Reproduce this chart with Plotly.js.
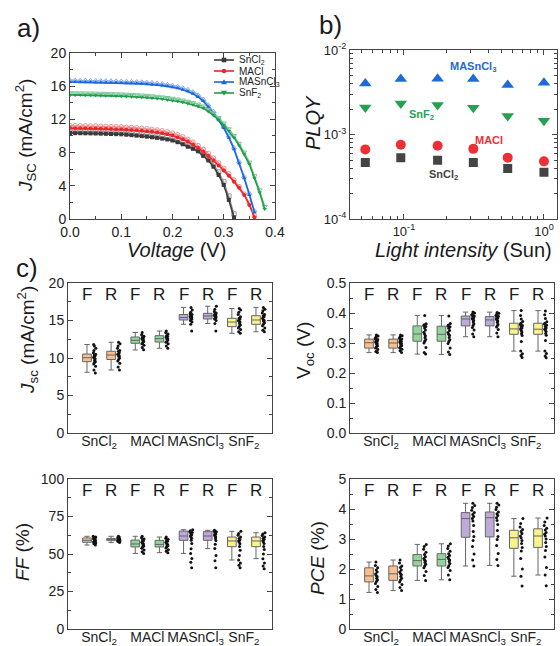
<!DOCTYPE html>
<html><head><meta charset="utf-8">
<script src="https://cdn.plot.ly/plotly-3.0.1.min.js"></script>
<style>html,body{margin:0;padding:0;background:#fff}#chart{width:560px;height:646px}</style>
</head><body><div id="chart"></div>
<script>
const FONT = 'Liberation Sans, Arial, Helvetica, sans-serif';
const AX = '#444';

// ---------- (a) J-V curves ----------
const voltage = [0.00,0.01,0.02,0.03,0.04,0.05,0.06,0.07,0.08,0.09,0.10,0.11,0.12,0.13,0.14,0.15,0.16,0.17,0.18,0.19,0.20,0.21,0.22,0.23,0.24,0.25,0.26,0.27,0.28,0.29,0.30,0.31,0.32,0.33,0.34,0.35,0.36,0.37,0.38];
const jSnCl2F = [10.35,10.34,10.33,10.32,10.31,10.3,10.28,10.26,10.24,10.22,10.2,10.15,10.1,10.04,9.98,9.92,9.85,9.77,9.68,9.58,9.45,9.25,9.0,8.7,8.45,8.15,7.6,7.05,6.3,5.3,4.1,2.3,0.2];
const jSnCl2R = [10.6,10.59,10.58,10.57,10.56,10.55,10.53,10.51,10.49,10.47,10.45,10.4,10.35,10.29,10.23,10.16,10.09,10.0,9.9,9.79,9.66,9.47,9.22,8.94,8.66,8.34,7.85,7.3,6.6,5.65,4.5,2.75,0.6];
const jMAClF = [10.95,10.94,10.93,10.92,10.91,10.9,10.88,10.86,10.84,10.82,10.8,10.76,10.72,10.68,10.63,10.57,10.5,10.42,10.33,10.22,10.05,9.85,9.6,9.3,8.95,8.55,8.1,7.6,7.05,6.45,5.85,5.2,4.5,3.75,2.9,1.7,0.2];
const jMAClR = [11.25,11.24,11.23,11.22,11.21,11.2,11.18,11.16,11.14,11.12,11.1,11.06,11.02,10.98,10.93,10.87,10.8,10.72,10.62,10.5,10.35,10.15,9.9,9.6,9.25,8.85,8.4,7.9,7.35,6.75,6.1,5.45,4.7,3.9,3.0,1.9,0.4];
const jMASnCl3F = [16.5,16.49,16.48,16.47,16.46,16.45,16.44,16.43,16.42,16.4,16.38,16.36,16.34,16.31,16.28,16.24,16.2,16.14,16.07,15.98,15.88,15.75,15.58,15.38,15.1,14.7,14.2,13.5,12.7,11.9,10.95,9.8,8.4,6.7,4.9,2.9,0.8];
const jMASnCl3R = [16.72,16.71,16.7,16.69,16.68,16.67,16.66,16.65,16.64,16.62,16.6,16.58,16.56,16.53,16.5,16.46,16.42,16.36,16.29,16.2,16.1,15.97,15.8,15.6,15.32,14.93,14.43,13.75,12.95,12.1,11.15,10.0,8.6,6.9,5.1,3.1,1.0];
const jSnF2F = [14.95,14.94,14.93,14.92,14.91,14.9,14.88,14.86,14.84,14.82,14.8,14.77,14.74,14.71,14.67,14.63,14.58,14.52,14.45,14.37,14.28,14.18,14.06,13.92,13.76,13.57,13.35,12.95,12.5,11.95,11.3,10.6,9.8,8.85,7.8,6.6,4.9,3.2,1.2];
const jSnF2R = [15.2,15.19,15.18,15.17,15.16,15.15,15.13,15.11,15.09,15.07,15.05,15.02,14.99,14.96,14.92,14.88,14.83,14.77,14.7,14.62,14.53,14.43,14.31,14.17,14.01,13.82,13.6,13.2,12.75,12.2,11.55,10.85,10.05,9.1,8.05,6.85,5.2,3.5,1.5];
const seriesNames = ['SnCl<sub>2</sub>','MACl','MASnCl<sub>3</sub>','SnF<sub>2</sub>'];

// ---------- (b) PLQY ----------
const intensity = [0.053,0.095,0.174,0.313,0.551,1.0];
const plqyMASnCl3 = [0.00403,0.00454,0.00458,0.00454,0.00386,0.00411];
const plqySnF2 = [0.0021,0.00234,0.00224,0.00208,0.00166,0.00146];
const plqyMACl = [0.00067,0.00076,0.00074,0.00068,0.000535,0.000484];
const plqySnCl2 = [0.00047,0.000535,0.0005,0.00047,0.000397,0.000359];

// ---------- (c) statistics ----------
const boxPos = [1,2,3,4,5,6,7,8];
const scanLabels = ['F','R','F','R','F','R','F','R'];
const catPos = [1.5,3.5,5.5,7.5];

const jscQ1 = [9.51,9.8,11.96,12.13,15.07,15.2,14.18,14.49];
const jscMed = [10.04,10.4,12.36,12.58,15.4,15.6,14.8,15.07];
const jscQ3 = [10.53,10.9,12.8,12.98,15.8,15.96,15.3,15.64];
const jscLow = [8.1,8.4,11.07,11.3,14.5,14.6,13.3,13.5];
const jscHigh = [11.8,12.1,13.4,13.6,16.75,16.9,16.6,16.75];
const jscPts = [
 [8.0,8.4,8.9,9.2,9.4,9.5,9.7,9.9,10.0,10.1,10.3,10.4,10.5,10.7,11.0,11.3,11.6,11.8],
 [8.4,8.8,9.3,9.6,9.8,10.0,10.2,10.3,10.4,10.5,10.7,10.9,11.0,11.3,11.6,11.9,12.1],
 [11.1,11.4,11.7,11.9,12.0,12.2,12.3,12.4,12.5,12.6,12.7,12.8,12.9,13.1,13.4],
 [11.3,11.6,11.9,12.1,12.2,12.4,12.5,12.6,12.7,12.8,12.9,13.0,13.2,13.4,13.6],
 [13.6,14.5,14.8,15.0,15.1,15.2,15.3,15.4,15.4,15.5,15.6,15.7,15.8,15.9,16.1,16.4,16.75],
 [13.6,14.6,15.0,15.2,15.3,15.4,15.5,15.6,15.6,15.7,15.8,15.9,16.0,16.2,16.5,16.9],
 [13.3,13.5,13.8,14.0,14.2,14.4,14.6,14.8,14.9,15.0,15.2,15.3,15.5,15.8,16.1,16.4,16.6],
 [13.5,13.7,14.0,14.3,14.5,14.7,14.9,15.0,15.1,15.3,15.5,15.6,15.8,16.0,16.3,16.5,16.75]
];

const vocQ1 = [0.283,0.283,0.306,0.306,0.357,0.357,0.329,0.329];
const vocMed = [0.301,0.300,0.330,0.329,0.380,0.377,0.347,0.346];
const vocQ3 = [0.313,0.313,0.357,0.356,0.390,0.388,0.366,0.366];
const vocLow = [0.268,0.268,0.263,0.262,0.321,0.321,0.273,0.273];
const vocHigh = [0.327,0.327,0.392,0.392,0.403,0.403,0.408,0.408];
const vocPts = [
 [0.268,0.272,0.278,0.283,0.287,0.291,0.295,0.298,0.301,0.303,0.306,0.309,0.312,0.315,0.319,0.323,0.327],
 [0.268,0.274,0.279,0.283,0.288,0.292,0.295,0.298,0.300,0.303,0.305,0.309,0.313,0.316,0.320,0.324,0.327],
 [0.263,0.268,0.285,0.300,0.306,0.312,0.318,0.324,0.330,0.336,0.343,0.350,0.355,0.358,0.361,0.364,0.392],
 [0.262,0.270,0.283,0.298,0.305,0.311,0.318,0.325,0.329,0.335,0.342,0.349,0.354,0.357,0.360,0.365,0.390],
 [0.321,0.330,0.343,0.352,0.358,0.364,0.370,0.375,0.379,0.381,0.384,0.387,0.390,0.393,0.396,0.400,0.403],
 [0.321,0.333,0.345,0.353,0.357,0.362,0.368,0.373,0.377,0.380,0.383,0.386,0.389,0.392,0.395,0.399,0.402],
 [0.252,0.258,0.264,0.273,0.305,0.325,0.331,0.337,0.342,0.347,0.350,0.354,0.358,0.362,0.366,0.372,0.380,0.392,0.408],
 [0.251,0.257,0.265,0.273,0.308,0.326,0.332,0.338,0.343,0.346,0.350,0.355,0.359,0.363,0.366,0.371,0.382,0.394,0.407]
];

const ffQ1 = [57.8,58.9,54.7,54.7,59.1,59.1,54.9,54.9];
const ffMed = [59.1,59.8,56.7,56.4,62.0,62.0,58.7,58.7];
const ffQ3 = [60.7,60.4,59.3,59.1,65.3,64.9,61.3,61.3];
const ffLow = [56.0,57.6,50.4,50.9,50.4,53.6,46.0,46.9];
const ffHigh = [61.8,61.8,61.8,61.3,66.2,65.8,65.1,64.2];
const ffPts = [
 [56.0,56.8,57.5,58.0,58.5,58.9,59.2,59.5,59.9,60.3,60.6,61.0,61.4,61.8],
 [57.6,58.3,58.8,59.2,59.5,59.8,60.0,60.2,60.5,60.9,61.3,61.8],
 [50.4,51.5,52.6,53.8,54.7,55.4,56.0,56.7,57.3,57.9,58.6,59.3,60.0,60.8,61.8],
 [50.9,51.8,52.9,54.0,54.8,55.5,56.0,56.4,57.0,57.8,58.5,59.1,59.8,60.5,61.3],
 [40.9,44.5,47.0,50.4,53.5,57.0,59.2,60.5,61.5,62.0,62.8,63.6,64.3,65.0,65.5,66.2],
 [40.9,45.5,49.0,53.6,56.5,59.0,60.3,61.3,62.0,62.7,63.4,64.2,64.9,65.4,65.8],
 [40.9,42.5,44.0,46.0,49.0,52.5,55.0,56.8,58.0,58.7,59.5,60.3,61.3,62.5,63.7,65.1],
 [40.2,42.0,44.0,46.9,50.0,53.0,55.0,57.0,58.2,58.8,59.6,60.5,61.3,62.4,63.4,64.2]
];

const pceQ1 = [1.57,1.62,2.10,2.10,3.06,3.07,2.69,2.72];
const pceMed = [1.77,1.84,2.28,2.32,3.68,3.71,3.04,3.10];
const pceQ3 = [2.04,2.10,2.48,2.51,3.88,3.90,3.29,3.34];
const pceLow = [1.22,1.28,1.62,1.64,2.10,2.12,1.76,1.80];
const pceHigh = [2.23,2.30,2.82,2.84,4.19,4.19,3.68,3.70];
const pcePts = [
 [1.22,1.32,1.42,1.52,1.58,1.63,1.69,1.74,1.78,1.83,1.90,1.97,2.04,2.12,2.23],
 [1.28,1.38,1.48,1.57,1.63,1.69,1.75,1.81,1.85,1.90,1.97,2.05,2.10,2.20,2.30],
 [1.62,1.78,1.92,2.04,2.10,2.16,2.22,2.27,2.30,2.35,2.41,2.48,2.56,2.66,2.75,2.82],
 [1.64,1.80,1.95,2.05,2.11,2.18,2.25,2.30,2.34,2.39,2.45,2.51,2.59,2.68,2.77,2.84],
 [2.10,2.30,2.50,2.75,2.95,3.08,3.25,3.45,3.60,3.68,3.75,3.82,3.88,3.96,4.05,4.12,4.19],
 [2.12,2.32,2.52,2.78,2.98,3.08,3.28,3.48,3.62,3.71,3.78,3.84,3.90,3.98,4.06,4.13,4.19],
 [1.43,1.76,2.00,2.35,2.60,2.72,2.85,2.95,3.04,3.10,3.18,3.25,3.32,3.40,3.52,3.68],
 [1.44,1.80,2.05,2.40,2.62,2.75,2.88,3.00,3.10,3.16,3.22,3.30,3.36,3.45,3.57,3.70]
];

// ---------- styles ----------
const jvStyle = [
  {f: jSnCl2F, r: jSnCl2R, color:'#3a3a3a', light:'#9c9c9c', sym:'square'},
  {f: jMAClF, r: jMAClR, color:'#e8262b', light:'#f08c8c', sym:'circle'},
  {f: jMASnCl3F, r: jMASnCl3R, color:'#1a66dc', light:'#86aef0', sym:'triangle-up'},
  {f: jSnF2F, r: jSnF2R, color:'#1f9e4a', light:'#7cc897', sym:'triangle-down'}
];
const boxFill = ['#f8c08e','#f8c08e','#93d49b','#93d49b','#bdaad9','#bdaad9','#f9f38e','#f9f38e'];
const ptsShift = 0.32;   // horizontal offset of the sample dots beside each box (axis units)

const traces = [];
jvStyle.forEach((s, k) => {
  traces.push({x: voltage.slice(0, s.r.length), y: s.r, type:'scatter', mode:'lines+markers',
    xaxis:'x', yaxis:'y', showlegend:false, hoverinfo:'skip',
    line:{color:s.light, width:1.3}, marker:{symbol:s.sym+'-open', size:4.5, color:s.light, line:{width:1}}});
  traces.push({x: voltage.slice(0, s.f.length), y: s.f, type:'scatter', mode:'lines+markers',
    name: seriesNames[k], xaxis:'x', yaxis:'y', showlegend:false, hoverinfo:'skip',
    line:{color:s.color, width:1.6}, marker:{symbol:s.sym, size:4, color:s.color}});
});

const plqySets = [
  {y: plqySnCl2, color:'#444444', sym:'square', size:9},
  {y: plqyMACl, color:'#ec3036', sym:'circle', size:10},
  {y: plqyMASnCl3, color:'#1d6ad8', sym:'triangle-up', size:11},
  {y: plqySnF2, color:'#27a052', sym:'triangle-down', size:11}
];
plqySets.forEach(s => traces.push({x: intensity, y: s.y, type:'scatter', mode:'markers',
  xaxis:'x2', yaxis:'y2', showlegend:false, hoverinfo:'skip',
  marker:{symbol:s.sym, size:s.size, color:s.color}}));

function addBoxPanel(xa, ya, q1, med, q3, lo, hi, pts) {
  for (let i = 0; i < boxPos.length; i++) {
    traces.push({type:'box', xaxis:xa, yaxis:ya, orientation:'v', x:[boxPos[i]],
      q1:[q1[i]], median:[med[i]], q3:[q3[i]], lowerfence:[lo[i]], upperfence:[hi[i]],
      width:0.36, whiskerwidth:0.6, fillcolor:boxFill[i], line:{color:'#666666', width:1},
      boxpoints:false, showlegend:false, hoverinfo:'skip'});
    traces.push({type:'box', xaxis:xa, yaxis:ya, orientation:'v',
      x: pts[i].map(() => boxPos[i] + ptsShift), y: pts[i],
      width:0.26, boxpoints:'all', pointpos:0, jitter:0.5,
      fillcolor:'rgba(0,0,0,0)', line:{color:'rgba(0,0,0,0)', width:0},
      marker:{color:'#111', size:3}, showlegend:false, hoverinfo:'skip'});
  }
}
addBoxPanel('x3','y3', jscQ1, jscMed, jscQ3, jscLow, jscHigh, jscPts);
addBoxPanel('x4','y4', vocQ1, vocMed, vocQ3, vocLow, vocHigh, vocPts);
addBoxPanel('x5','y5', ffQ1, ffMed, ffQ3, ffLow, ffHigh, ffPts);
addBoxPanel('x6','y6', pceQ1, pceMed, pceQ3, pceLow, pceHigh, pcePts);

// ---------- axes ----------
function baseAxis(extra) {
  return Object.assign({showline:true, linecolor:AX, linewidth:1, mirror:'ticks', ticks:'inside',
    ticklen:5, tickcolor:AX, showgrid:false, zeroline:false, fixedrange:true,
    tickfont:{family:FONT, size:14, color:'#222'}}, extra);
}
const catAxis = (dom, anchor) => baseAxis({domain:dom, anchor:anchor, range:[0.213,8.663],
  ticks:'', tickmode:'array', tickvals:catPos, ticktext:seriesNames, mirror:true,
  ticklabelstandoff:-5});

const dLeft = [0.1214,0.4857], dRight = [0.625,0.9893];
const dTop = [0.3297,0.5619], dBot = [0.0263,0.2585];

const layout = {
  width:560, height:646, autosize:false, margin:{l:0,r:0,t:0,b:0},
  paper_bgcolor:'#fff', plot_bgcolor:'#fff', boxmode:'overlay',
  font:{family:FONT, color:'#222'},
  showlegend:false,
  xaxis: baseAxis({domain:[0.125,0.491], anchor:'y', range:[0,0.4], dtick:0.1, tickformat:'.1f',
    minor:{ticks:'inside', ticklen:3, dtick:0.05, tickcolor:AX}}),
  yaxis: baseAxis({domain:[0.661,0.918], anchor:'x', range:[0,20], dtick:4,
    minor:{ticks:'inside', ticklen:3, dtick:2, tickcolor:AX}}),
  xaxis2: baseAxis({domain:[0.625,0.9946], anchor:'y2', type:'log', range:[-1.385,0.093],
    tickmode:'array', tickvals:[0.1,1], ticktext:['10<sup>-1</sup>','10<sup>0</sup>'],
    tickfont:{family:FONT, size:13, color:'#222'},
    minor:{ticks:'inside', ticklen:3, dtick:'D1', tickcolor:AX}}),
  yaxis2: baseAxis({domain:[0.6605,0.9226], anchor:'x2', type:'log', range:[-4,-2],
    tickmode:'array', tickvals:[0.0001,0.001,0.01], ticktext:['10<sup>-4</sup>','10<sup>-3</sup>','10<sup>-2</sup>'],
    tickfont:{family:FONT, size:13, color:'#222'},
    minor:{ticks:'inside', ticklen:3, dtick:'D1', tickcolor:AX}}),
  xaxis3: catAxis(dLeft, 'y3'),
  yaxis3: baseAxis({domain:dTop, anchor:'x3', range:[0,20], dtick:5,
    minor:{ticks:'inside', ticklen:3, dtick:2.5, tickcolor:AX}}),
  xaxis4: catAxis(dRight, 'y4'),
  yaxis4: baseAxis({domain:dTop, anchor:'x4', range:[0,0.5], dtick:0.1, tickformat:'.1f',
    minor:{ticks:'inside', ticklen:3, dtick:0.05, tickcolor:AX}}),
  xaxis5: catAxis(dLeft, 'y5'),
  yaxis5: baseAxis({domain:dBot, anchor:'x5', range:[0,100], dtick:25,
    minor:{ticks:'inside', ticklen:3, dtick:12.5, tickcolor:AX}}),
  xaxis6: catAxis(dRight, 'y6'),
  yaxis6: baseAxis({domain:dBot, anchor:'x6', range:[0,5], dtick:1,
    minor:{ticks:'inside', ticklen:3, dtick:0.5, tickcolor:AX}}),
  annotations: [],
  shapes: []
};

const ann = layout.annotations;
const px2x = px => px / 560, px2y = py => 1 - py / 646;
function paperText(text, px, py, size, extra) {
  ann.push(Object.assign({text:text, xref:'paper', yref:'paper', x:px2x(px), y:px2y(py),
    xanchor:'center', yanchor:'middle', showarrow:false,
    font:{family:FONT, size:size, color:'#1a1a1a'}}, extra || {}));
}
paperText('a)', 28, 28, 26);
paperText('b)', 330, 25, 26);
paperText('c)', 27, 268, 26);
paperText('<i>J</i><sub>SC</sub> (mA/cm<sup>2</sup>)', 25, 136, 19, {textangle:-90});
paperText('<i>Voltage</i> (V)', 176, 250, 20);
paperText('<i>PLQY</i>', 313, 123, 20, {textangle:-90});
paperText('<i>Light intensity</i> (Sun)', 463, 250, 20);
paperText('<i>J</i><sub>sc</sub> (mA/cm<sup>2</sup>)', 27, 340, 19, {textangle:-90});
paperText('V<sub>oc</sub> (V)', 305, 351, 19, {textangle:-90});
paperText('<i>FF</i> (%)', 22, 552, 19, {textangle:-90});
paperText('<i>PCE</i> (%)', 317, 558, 19, {textangle:-90});

// legend key for panel (a), drawn compactly like the original
const legendRowsPx = [60, 71, 82, 93];
jvStyle.forEach((s, k) => {
  const yc = legendRowsPx[k], xc = 224;
  layout.shapes.push({type:'line', xref:'paper', yref:'paper', x0:px2x(214), x1:px2x(234),
    y0:px2y(yc), y1:px2y(yc), line:{color:s.color, width:1.6}});
  if (s.sym === 'square' || s.sym === 'circle') {
    layout.shapes.push({type: s.sym === 'square' ? 'rect' : 'circle', xref:'paper', yref:'paper',
      x0:px2x(xc-2.3), x1:px2x(xc+2.3), y0:px2y(yc+2.3), y1:px2y(yc-2.3),
      fillcolor:s.color, line:{width:0}});
  } else {
    const d = s.sym === 'triangle-up' ? 1 : -1;
    const p = `M ${px2x(xc)},${px2y(yc - 2.8*d)} L ${px2x(xc+3)},${px2y(yc + 2.2*d)} L ${px2x(xc-3)},${px2y(yc + 2.2*d)} Z`;
    layout.shapes.push({type:'path', xref:'paper', yref:'paper', path:p, fillcolor:s.color, line:{width:0}});
  }
  ann.push({text:seriesNames[k], xref:'paper', yref:'paper', x:px2x(237), y:px2y(yc),
    xanchor:'left', yanchor:'middle', showarrow:false, font:{family:FONT, size:10, color:'#222'}});
});

// PLQY labels (log axes -> log10 coordinates)
const plqyLabels = [
  {t:'MASnCl<sub>3</sub>', x:0.31, y:0.0063, c:'#1d6ad8'},
  {t:'SnF<sub>2</sub>', x:0.134, y:0.00171, c:'#27a052'},
  {t:'MACl', x:0.404, y:0.000865, c:'#ec3036'},
  {t:'SnCl<sub>2</sub>', x:0.193, y:0.000334, c:'#444444'}
];
plqyLabels.forEach(l => ann.push({text:'<b>'+l.t+'</b>', xref:'x2', yref:'y2',
  x:Math.log10(l.x), y:Math.log10(l.y), showarrow:false, xanchor:'center', yanchor:'middle',
  font:{family:FONT, size:11, color:l.c}}));

// F / R scan labels
[['x3','y3'],['x4','y4'],['x5','y5'],['x6','y6']].forEach(([xa, ya]) => {
  boxPos.forEach((p, i) => ann.push({text:scanLabels[i], xref:xa, yref:ya+' domain', x:p, y:0.925,
    showarrow:false, xanchor:'center', yanchor:'middle', font:{family:FONT, size:17, color:'#1a1a1a'}}));
});

Plotly.newPlot('chart', traces, layout, {staticPlot:true, displayModeBar:false});
</script></body></html>
